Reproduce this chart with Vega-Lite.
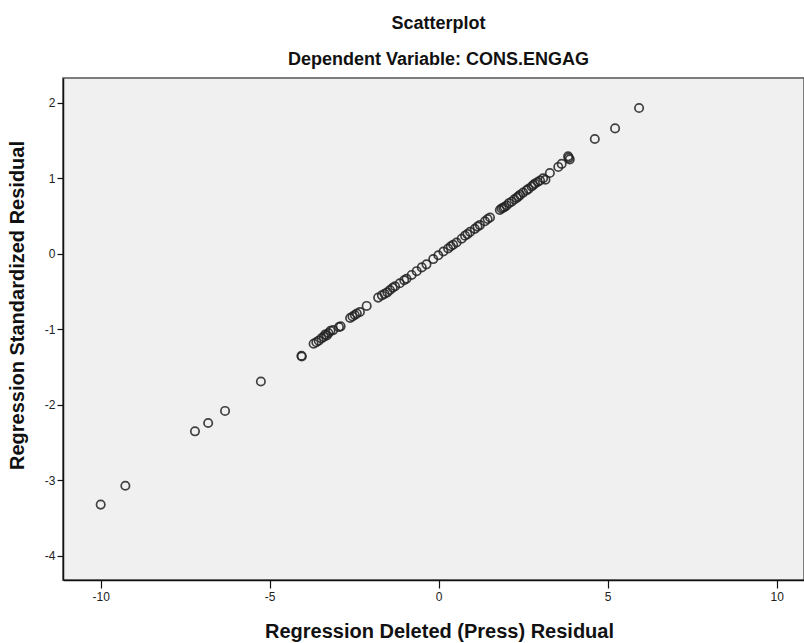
{
  "$schema": "https://vega.github.io/schema/vega-lite/v6.json",
  "width": 741,
  "height": 502,
  "autosize": {"type": "none"},
  "padding": {"left": 63, "top": 78, "right": 0, "bottom": 63},
  "background": "#ffffff",
  "config": {
    "font": "Liberation Sans",
    "view": {"fill": "#f0f0f0", "stroke": "#555555", "strokeWidth": 1.5},
    "axis": {"grid": false, "domainColor": "#111111", "domainWidth": 1.5, "tickColor": "#111111", "tickWidth": 1.2, "labelFont": "Liberation Sans", "labelFontSize": 12, "labelColor": "#222222", "titleFont": "Liberation Sans", "titleFontWeight": "bold", "titleFontSize": 20, "titleColor": "#111111"}
  },
  "title": {
    "text": "Scatterplot",
    "subtitle": "Dependent Variable: CONS.ENGAG",
    "font": "Liberation Sans",
    "subtitleFont": "Liberation Sans",
    "fontSize": 18,
    "subtitleFontSize": 18,
    "fontWeight": "bold",
    "subtitleFontWeight": "bold",
    "color": "#111111",
    "subtitleColor": "#111111",
    "anchor": "middle",
    "dx": 5,
    "offset": 9,
    "subtitlePadding": 18
  },
  "data": {
    "values": [
      {"press": -10.0, "std": -3.32},
      {"press": -9.27, "std": -3.07},
      {"press": -7.21, "std": -2.35},
      {"press": -6.82, "std": -2.24},
      {"press": -6.32, "std": -2.08},
      {"press": -5.26, "std": -1.69},
      {"press": -4.06, "std": -1.35},
      {"press": -4.05, "std": -1.36},
      {"press": -3.70, "std": -1.19},
      {"press": -3.62, "std": -1.17},
      {"press": -3.55, "std": -1.15},
      {"press": -3.47, "std": -1.12},
      {"press": -3.40, "std": -1.10},
      {"press": -3.36, "std": -1.07},
      {"press": -3.31, "std": -1.08},
      {"press": -3.26, "std": -1.05},
      {"press": -3.20, "std": -1.02},
      {"press": -3.12, "std": -1.01},
      {"press": -2.95, "std": -0.97},
      {"press": -2.90, "std": -0.96},
      {"press": -2.62, "std": -0.85},
      {"press": -2.55, "std": -0.83},
      {"press": -2.48, "std": -0.81},
      {"press": -2.42, "std": -0.79},
      {"press": -2.33, "std": -0.77},
      {"press": -2.13, "std": -0.69},
      {"press": -1.79, "std": -0.58},
      {"press": -1.68, "std": -0.55},
      {"press": -1.60, "std": -0.53},
      {"press": -1.52, "std": -0.51},
      {"press": -1.44, "std": -0.48},
      {"press": -1.36, "std": -0.45},
      {"press": -1.29, "std": -0.43},
      {"press": -1.15, "std": -0.39},
      {"press": -1.02, "std": -0.35},
      {"press": -0.95, "std": -0.33},
      {"press": -0.80, "std": -0.28},
      {"press": -0.65, "std": -0.23},
      {"press": -0.50, "std": -0.18},
      {"press": -0.36, "std": -0.14},
      {"press": -0.16, "std": -0.07},
      {"press": -0.01, "std": -0.02},
      {"press": 0.14, "std": 0.03},
      {"press": 0.28, "std": 0.07},
      {"press": 0.36, "std": 0.10},
      {"press": 0.43, "std": 0.12},
      {"press": 0.53, "std": 0.15},
      {"press": 0.68, "std": 0.20},
      {"press": 0.78, "std": 0.24},
      {"press": 0.85, "std": 0.26},
      {"press": 0.93, "std": 0.29},
      {"press": 1.07, "std": 0.33},
      {"press": 1.15, "std": 0.36},
      {"press": 1.22, "std": 0.38},
      {"press": 1.37, "std": 0.43},
      {"press": 1.45, "std": 0.46},
      {"press": 1.52, "std": 0.48},
      {"press": 1.81, "std": 0.58},
      {"press": 1.86, "std": 0.60},
      {"press": 1.91, "std": 0.61},
      {"press": 1.95, "std": 0.62},
      {"press": 2.01, "std": 0.64},
      {"press": 2.08, "std": 0.67},
      {"press": 2.16, "std": 0.69},
      {"press": 2.24, "std": 0.72},
      {"press": 2.31, "std": 0.74},
      {"press": 2.36, "std": 0.76},
      {"press": 2.41, "std": 0.78},
      {"press": 2.50, "std": 0.81},
      {"press": 2.60, "std": 0.84},
      {"press": 2.66, "std": 0.86},
      {"press": 2.75, "std": 0.89},
      {"press": 2.80, "std": 0.91},
      {"press": 2.85, "std": 0.93},
      {"press": 2.93, "std": 0.95},
      {"press": 3.00, "std": 0.97},
      {"press": 3.09, "std": 1.00},
      {"press": 3.16, "std": 0.98},
      {"press": 3.29, "std": 1.07},
      {"press": 3.54, "std": 1.15},
      {"press": 3.64, "std": 1.19},
      {"press": 3.83, "std": 1.29},
      {"press": 3.85, "std": 1.27},
      {"press": 3.88, "std": 1.25},
      {"press": 4.62, "std": 1.52},
      {"press": 5.22, "std": 1.66},
      {"press": 5.93, "std": 1.93}
    ]
  },
  "mark": {"type": "point", "shape": "circle", "filled": false, "size": 70, "strokeWidth": 1.7, "color": "#222222", "opacity": 0.85},
  "encoding": {
    "x": {
      "field": "press", "type": "quantitative",
      "title": "Regression Deleted (Press) Residual",
      "scale": {"domain": [-11.115, 10.81], "nice": false, "zero": false},
      "axis": {"values": [-10, -5, 0, 5, 10], "labelExpr": "'' + datum.value", "tickSize": 8, "labelPadding": 3, "titleX": 376, "titleY": 51, "titleAnchor": "start", "titleAlign": "center", "titleBaseline": "middle"}
    },
    "y": {
      "field": "std", "type": "quantitative",
      "title": "Regression Standardized Residual",
      "scale": {"domain": [-4.318, 2.327], "nice": false, "zero": false},
      "axis": {"values": [-4, -3, -2, -1, 0, 1, 2], "labelExpr": "'' + datum.value", "tickSize": 6, "labelPadding": 2, "titleX": -46, "titleY": 227, "titleAngle": 270, "titleAnchor": "start", "titleAlign": "center", "titleBaseline": "middle"}
    }
  }
}
